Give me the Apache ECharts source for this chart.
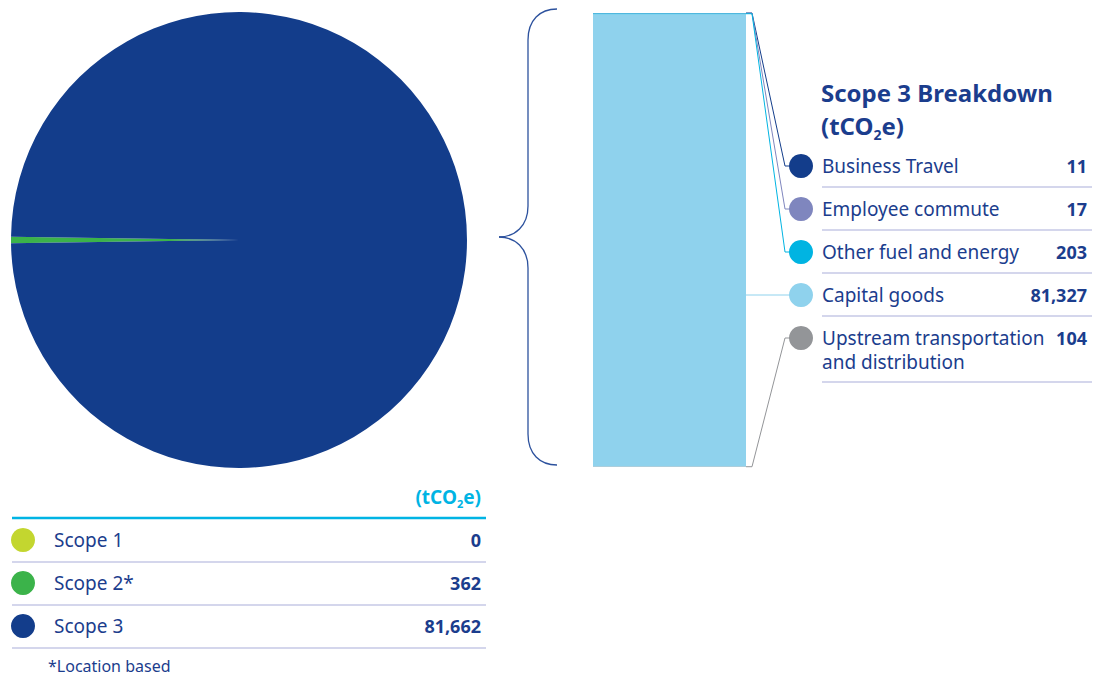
<!DOCTYPE html>
<html>
<head>
<meta charset="utf-8">
<script src="https://cdn.jsdelivr.net/npm/echarts@6/dist/echarts.min.js"></script>
<style>
  html, body { margin: 0; padding: 0; background: #fff; }
  #chart { width: 1095px; height: 677px; }
</style>
</head>
<body>
<div id="chart"></div>
<script>
// emissions by scope (tCO2e)
const scopeNames = ['Scope 1', 'Scope 2*', 'Scope 3'];
const scopeValues = [0, 362, 81662];

// scope 3 breakdown, listed top to bottom as in the legend
const breakdownNames = ['Business Travel', 'Employee commute', 'Other fuel and energy', 'Capital goods', 'Upstream transportation\nand distribution'];
const breakdownValues = [11, 17, 203, 81327, 104];

const unitLabel = '{a|(tCO}{s|2}{a|e)}';
const footnote = '*Location based';

const scopeColors = ['#c3d62f', '#3bb34a', '#133d8b'];
const breakdownColors = ['#133d8b', '#7f86be', '#00b4e2', '#8fd2ed', '#939598'];
const textColor = '#1b3d8d';
const ruleColor = '#c6c9e6';
const FONT = 'Noto Sans';

const chart = echarts.init(document.getElementById('chart'), null, { renderer: 'svg' });

const fmt = v => v.toLocaleString('en-US');
const grid = { left: 593, top: 13, width: 153, height: 454 };

// pie: rotate so that the scope 2 sliver sits on the left
const pieTotal = scopeValues.reduce((a, b) => a + b, 0);
const startAngle = 180 + (scopeValues[0] + scopeValues[1] / 2) / pieTotal * 360;

// stacked bar: ECharts stacks from the bottom, so the legend order is reversed
const barSeries = breakdownNames.map((name, i) => ({
  type: 'bar',
  name: name,
  stack: 's3',
  barWidth: '100%',
  silent: true,
  itemStyle: { color: breakdownColors[i] },
  data: [breakdownValues[i]]
})).reverse();

const s3Total = breakdownValues.reduce((a, b) => a + b, 0);

chart.setOption({
  animation: false,
  grid: grid,
  xAxis: { type: 'category', data: ['Scope 3'], show: false },
  yAxis: { type: 'value', min: 0, max: s3Total, show: false },
  series: [
    {
      type: 'pie',
      center: [239, 240],
      radius: 228,
      startAngle: startAngle,
      silent: true,
      label: { show: false },
      labelLine: { show: false },
      data: scopeNames.map((n, i) => ({ name: n, value: scopeValues[i], itemStyle: { color: scopeColors[i] } }))
    }
  ].concat(barSeries)
});

const g = [];
const txt = (x, y, text, extra) => g.push({
  type: 'text', x: x, y: y, silent: true,
  style: Object.assign({ text: text, fill: textColor, font: '19px "' + FONT + '"', textVerticalAlign: 'middle' }, extra || {})
});
const rule = (x1, x2, y, color, w) => g.push({
  type: 'line', silent: true,
  shape: { x1: x1, y1: y, x2: x2, y2: y },
  style: { stroke: color, lineWidth: w }
});

// brace joining the pie to the bar
const braceStyle = { stroke: '#2c519d', lineWidth: 1.3, fill: null };
const curve = (x1, y1, cx1, cy1, cx2, cy2, x2, y2) => g.push({
  type: 'bezierCurve', silent: true,
  shape: { x1: x1, y1: y1, cpx1: cx1, cpy1: cy1, cpx2: cx2, cpy2: cy2, x2: x2, y2: y2 },
  style: braceStyle
});
curve(557, 9, 540, 9, 528, 20, 528, 40);
g.push({ type: 'line', silent: true, shape: { x1: 528, y1: 40, x2: 528, y2: 206 }, style: braceStyle });
curve(528, 206, 528, 226, 515, 237, 499, 237);
curve(499, 237, 515, 237, 528, 248, 528, 268);
g.push({ type: 'line', silent: true, shape: { x1: 528, y1: 268, x2: 528, y2: 434 }, style: braceStyle });
curve(528, 434, 528, 454, 540, 465, 557, 465);

// breakdown legend
const subRich = {
  a: { fontFamily: FONT, fontWeight: 'bold', fontSize: 24, fill: textColor },
  s: { fontFamily: FONT, fontWeight: 'bold', fontSize: 14, fill: textColor, padding: [18, 0, 0, 0] }
};
txt(821, 92, 'Scope 3 Breakdown', { font: 'bold 24px "' + FONT + '"' });
g.push({ type: 'text', x: 821, y: 125, silent: true,
  style: { text: unitLabel, rich: subRich, textVerticalAlign: 'middle' } });

const rowTop = 166, rowGap = 43, dotX = 801, textX = 822, valX = 1087;
const barRight = grid.left + grid.width;
let cum = s3Total;
breakdownNames.forEach((name, i) => {
  const y = rowTop + i * rowGap;
  const mid = cum - breakdownValues[i] / 2;
  cum -= breakdownValues[i];
  const segY = chart.convertToPixel({ xAxisIndex: 0, yAxisIndex: 0 }, [0, mid])[1];
  const pts = Math.abs(segY - y) < 60
    ? [[barRight, y], [dotX, y]]
    : [[barRight, segY], [barRight + 6, segY], [dotX - 16, y], [dotX, y]];
  g.push({ type: 'polyline', silent: true, shape: { points: pts },
    style: { stroke: breakdownColors[i], lineWidth: 1, fill: null } });
  g.push({ type: 'circle', silent: true, shape: { cx: dotX, cy: y, r: 12 }, style: { fill: breakdownColors[i] } });
  const lines = name.split('\n');
  txt(textX, y - 12, name, { textVerticalAlign: 'top', lineHeight: 24 });
  txt(valX, y, fmt(breakdownValues[i]), { font: 'bold 18px "' + FONT + '"', textAlign: 'right' });
  rule(textX, 1092, y + 21 + (lines.length - 1) * 23, ruleColor, 1.5);
});

// scope table
g.push({ type: 'text', x: 481, y: 497, silent: true,
  style: { text: unitLabel, textAlign: 'right', textVerticalAlign: 'middle',
    rich: {
      a: { fontFamily: FONT, fontWeight: 'bold', fontSize: 19, fill: '#00b4e4' },
      s: { fontFamily: FONT, fontWeight: 'bold', fontSize: 11, fill: '#00b4e4', padding: [13, 0, 0, 0] }
    } } });
rule(12, 486, 518, '#00b4e4', 2.5);
scopeNames.forEach((name, i) => {
  const y = 540 + i * 43;
  g.push({ type: 'circle', silent: true, shape: { cx: 23, cy: y, r: 12 }, style: { fill: scopeColors[i] } });
  txt(54, y, name);
  txt(481, y, fmt(scopeValues[i]), { font: 'bold 18px "' + FONT + '"', textAlign: 'right' });
  rule(12, 486, y + 22, ruleColor, 1.5);
});
txt(48, 666, footnote, { font: '16px "' + FONT + '"' });

chart.setOption({ graphic: g });
</script>
</body>
</html>
